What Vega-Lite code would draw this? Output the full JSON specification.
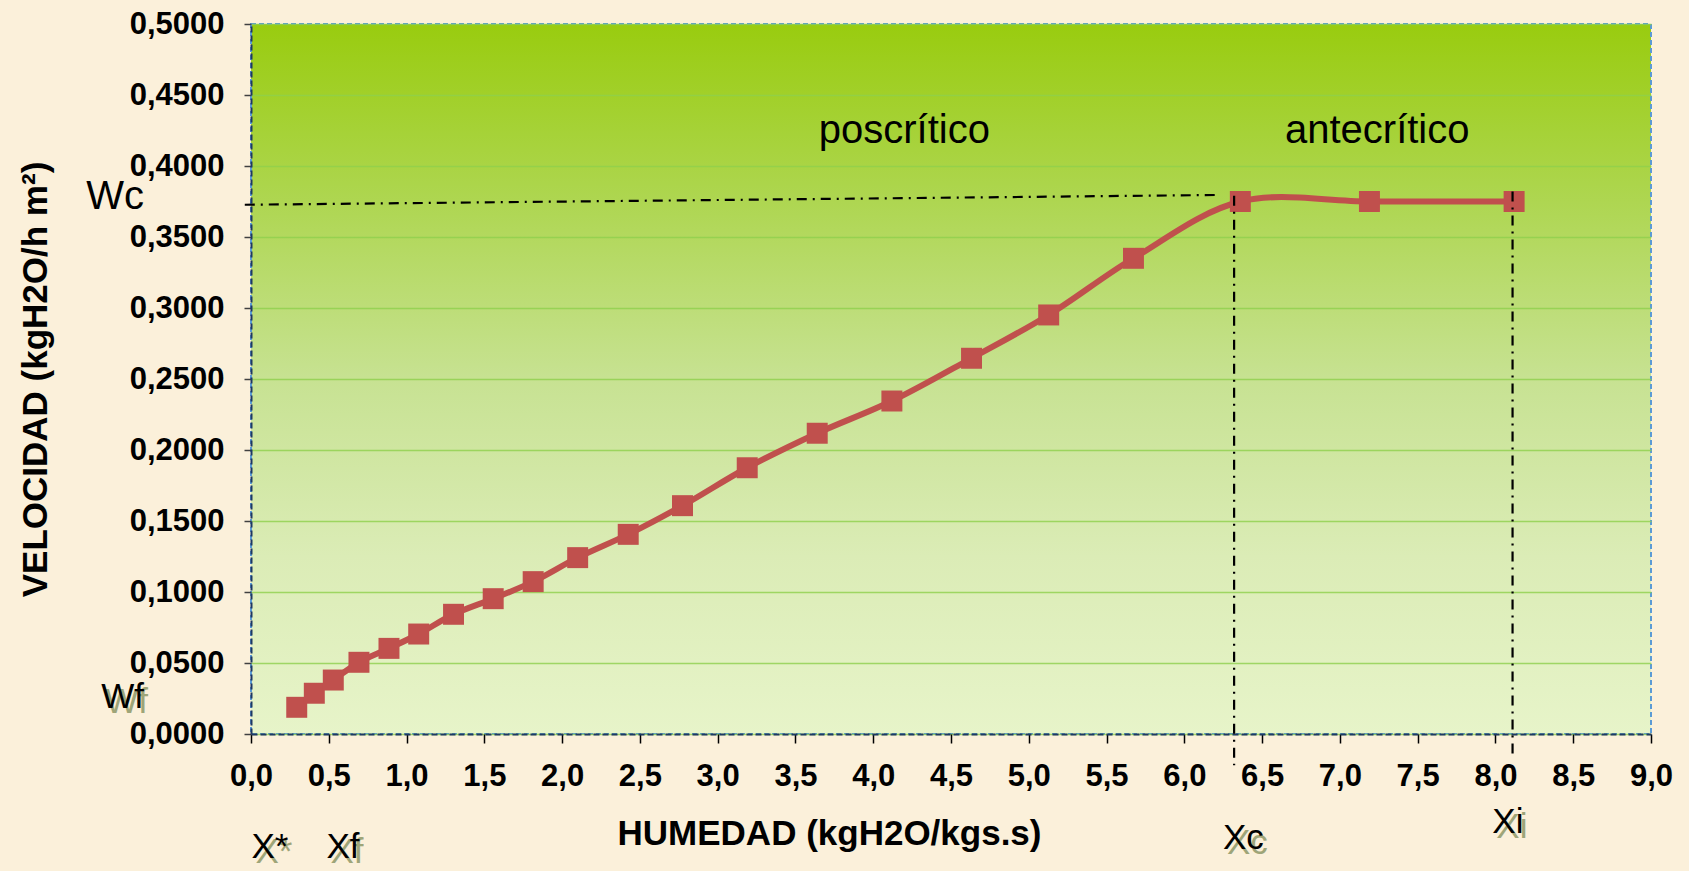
{
  "$schema": "https://vega.github.io/schema/vega-lite/v6.json",
  "width": 1400,
  "height": 710,
  "autosize": {"type": "none"},
  "padding": {"left": 251, "top": 24, "right": 38, "bottom": 137},
  "background": "#FBF0DA",
  "config": {
    "font": "Liberation Sans",
    "view": {
      "fill": {"gradient": "linear", "x1": 0, "y1": 0, "x2": 0, "y2": 1,
        "stops": [
          {"offset": 0, "color": "#99CC0F"},
          {"offset": 0.25, "color": "#AED651"},
          {"offset": 0.5, "color": "#C7E292"},
          {"offset": 0.75, "color": "#DBECB6"},
          {"offset": 1, "color": "#E7F4C9"}
        ]},
      "stroke": "#5B9BD5",
      "strokeDash": [5, 3],
      "strokeWidth": 2
    }
  },
  "datasets": {
    "curve": [
      {"x": 0.294, "y": 0.0188},
      {"x": 0.407, "y": 0.0287},
      {"x": 0.529, "y": 0.038},
      {"x": 0.694, "y": 0.0505},
      {"x": 0.887, "y": 0.0603},
      {"x": 1.078, "y": 0.0704},
      {"x": 1.302, "y": 0.0843},
      {"x": 1.557, "y": 0.0953},
      {"x": 1.814, "y": 0.1073},
      {"x": 2.1, "y": 0.1242},
      {"x": 2.425, "y": 0.1406},
      {"x": 2.774, "y": 0.1608},
      {"x": 3.19, "y": 0.1875},
      {"x": 3.64, "y": 0.2118},
      {"x": 4.12, "y": 0.2345},
      {"x": 4.632, "y": 0.2646},
      {"x": 5.128, "y": 0.2951},
      {"x": 5.673, "y": 0.335},
      {"x": 6.36, "y": 0.375},
      {"x": 7.19, "y": 0.375},
      {"x": 8.12, "y": 0.375}
    ],
    "guides": [
      {"x": -0.04, "x2": 6.22, "y": 0.3727, "y2": 0.3796},
      {"x": 6.32, "x2": 6.32, "y": 0.379, "y2": -0.022},
      {"x": 8.11, "x2": 8.11, "y": 0.382, "y2": -0.018}
    ],
    "regions": [
      {"x": 4.2, "y": 0.416, "label": "poscrítico"},
      {"x": 7.24, "y": 0.416, "label": "antecrítico"},
      {"x": -0.874, "y": 0.3697, "label": "Wc"}
    ],
    "marks": [
      {"x": 0.122, "y": -0.0799, "label": "X*"},
      {"x": 0.591, "y": -0.0796, "label": "Xf"},
      {"x": 6.38, "y": -0.0729, "label": "Xc"},
      {"x": 8.08, "y": -0.062, "label": "Xi"},
      {"x": -0.826, "y": 0.0263, "label": "Wf"}
    ]
  },
  "layer": [
    {
      "data": {"name": "curve"},
      "mark": {"type": "line", "interpolate": "catmull-rom", "color": "#C0504D", "strokeWidth": 6},
      "encoding": {
        "x": {
          "field": "x", "type": "quantitative",
          "scale": {"domain": [0, 9], "nice": false, "zero": false},
          "axis": {
            "values": [0, 0.5, 1, 1.5, 2, 2.5, 3, 3.5, 4, 4.5, 5, 5.5, 6, 6.5, 7, 7.5, 8, 8.5, 9],
            "labelExpr": "replace(format(datum.value, '.1f'), '.', ',')",
            "labelFont": "Liberation Sans", "labelFontSize": 31, "labelFontWeight": "bold", "labelColor": "#000000",
            "labelPadding": 18, "labelFlush": false, "labelOverlap": false,
            "tickColor": "#000000", "tickSize": 9, "tickWidth": 1.5,
            "domainColor": "#1F3864", "domainDash": [6, 3], "domainWidth": 2,
            "grid": false,
            "title": "HUMEDAD (kgH2O/kgs.s)",
            "titleFont": "Liberation Sans", "titleFontSize": 35, "titleFontWeight": "bold", "titleColor": "#000000",
            "titleX": 578, "titleY": 99, "titleAlign": "center", "titleBaseline": "middle"
          }
        },
        "y": {
          "field": "y", "type": "quantitative",
          "scale": {"domain": [0, 0.5], "nice": false, "zero": false},
          "axis": {
            "values": [0, 0.05, 0.1, 0.15, 0.2, 0.25, 0.3, 0.35, 0.4, 0.45, 0.5],
            "labelExpr": "replace(format(datum.value, '.4f'), '.', ',')",
            "labelFont": "Liberation Sans", "labelFontSize": 31, "labelFontWeight": "bold", "labelColor": "#000000",
            "labelPadding": 20, "labelFlush": false, "labelOverlap": false,
            "tickColor": "#404040", "tickSize": 7, "tickWidth": 1.5,
            "domainColor": "#1F3864", "domainDash": [6, 3], "domainWidth": 2,
            "grid": true, "gridColor": "#8FD04C", "gridWidth": 1.5, "gridOpacity": 0.8,
            "title": "VELOCIDAD (kgH2O/h m²)",
            "titleFont": "Liberation Sans", "titleFontSize": 35, "titleFontWeight": "bold", "titleColor": "#000000",
            "titleX": -216, "titleY": 355, "titleAngle": -90, "titleAlign": "center", "titleBaseline": "middle"
          }
        }
      }
    },
    {
      "data": {"name": "curve"},
      "mark": {"type": "point", "shape": "square", "filled": true, "size": 440, "color": "#C0504D", "opacity": 1},
      "encoding": {
        "x": {"field": "x", "type": "quantitative"},
        "y": {"field": "y", "type": "quantitative"}
      }
    },
    {
      "data": {"name": "guides"},
      "mark": {"type": "rule", "color": "#000000", "strokeWidth": 2.2, "strokeDash": [10, 6, 2, 6]},
      "encoding": {
        "x": {"field": "x", "type": "quantitative"},
        "x2": {"field": "x2"},
        "y": {"field": "y", "type": "quantitative"},
        "y2": {"field": "y2"}
      }
    },
    {
      "data": {"name": "regions"},
      "mark": {"type": "text", "font": "Liberation Sans", "fontSize": 40, "color": "#000000", "align": "center", "baseline": "alphabetic"},
      "encoding": {
        "x": {"field": "x", "type": "quantitative"},
        "y": {"field": "y", "type": "quantitative"},
        "text": {"field": "label"}
      }
    },
    {
      "data": {"name": "marks"},
      "mark": {"type": "text", "font": "Liberation Sans", "fontSize": 35, "color": "#8E9868", "opacity": 0.85, "align": "center", "baseline": "middle", "dx": 4, "dy": 5},
      "encoding": {
        "x": {"field": "x", "type": "quantitative"},
        "y": {"field": "y", "type": "quantitative"},
        "text": {"field": "label"}
      }
    },
    {
      "data": {"name": "marks"},
      "mark": {"type": "text", "font": "Liberation Sans", "fontSize": 35, "color": "#000000", "align": "center", "baseline": "middle"},
      "encoding": {
        "x": {"field": "x", "type": "quantitative"},
        "y": {"field": "y", "type": "quantitative"},
        "text": {"field": "label"}
      }
    }
  ]
}
